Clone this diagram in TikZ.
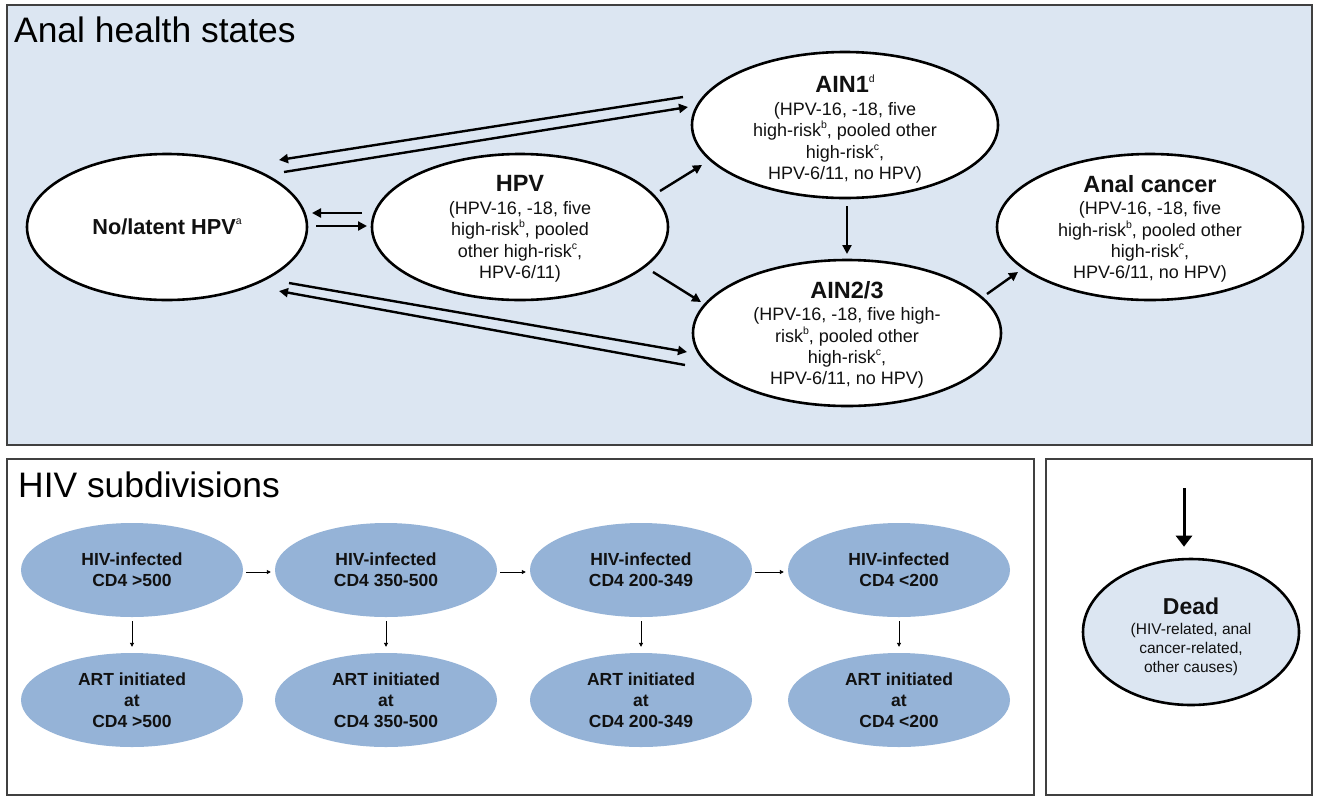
\documentclass[tikz,border=0pt]{standalone}
\usepackage{fontspec}
\setmainfont{Liberation Sans}
\usetikzlibrary{shapes.geometric,arrows.meta,calc}
\definecolor{panelblue}{HTML}{DCE6F2}
\definecolor{hivblue}{HTML}{95B3D7}
\definecolor{framegray}{HTML}{404040}
\definecolor{txt}{HTML}{111111}
\newcommand\supx[1]{\raisebox{0.45em}{\mdseries\fontsize{10.5}{11}\selectfont #1}}
\newcommand\bodyf{\fontsize{18}{21.4}\selectfont}
\newcommand\ttlf{\fontsize{23.5}{24}\selectfont\bfseries}
\newcommand\nolf{\fontsize{21.7}{24}\selectfont\bfseries}
\newcommand\deadttlf{\fontsize{23}{24}\selectfont\bfseries}
\newcommand\hivf{\fontsize{17.5}{21}\selectfont\bfseries}
\newcommand\panelf{\fontsize{35.4}{40}\selectfont}
\newcommand\deadbodyf{\fontsize{15.5}{19}\selectfont}
\begin{document}
\begin{tikzpicture}[x=1pt,y=-1pt,
  panel/.style={draw=framegray,line width=1.5pt},
  topell/.style={ellipse,draw=black,fill=white,line width=2.6pt,inner sep=0pt,
    minimum width=306pt,minimum height=146pt},
  hivell/.style={ellipse,draw=none,fill=hivblue,inner sep=0pt,
    minimum width=222pt,minimum height=94pt},
  deadell/.style={ellipse,draw=black,fill=panelblue,line width=2.6pt,inner sep=0pt,
    minimum width=216pt,minimum height=146pt},
  toptext/.style={align=center,text=txt,font=\bodyf,inner sep=0pt},
  hivtext/.style={align=center,text=txt,font=\hivf,inner sep=0pt},
  deadtext/.style={align=center,text=txt,font=\deadbodyf,inner sep=0pt},
  ptitle/.style={anchor=base west,font=\panelf,text=black,inner sep=0pt},
  conn/.style={line width=2.4pt,-{Triangle[length=9pt,width=9pt]}},
  thinarr/.style={line width=0.9pt,-{Triangle[length=4pt,width=4pt]}},
  deadarr/.style={line width=3pt,-{Triangle[length=11pt,width=16pt]}}
]
\useasboundingbox (0,0) rectangle (1319,796);

% panels
\draw[panel,fill=panelblue] (7,5) rectangle (1312,445);
\draw[panel,fill=white] (7,459) rectangle (1034,795);
\draw[panel,fill=white] (1046,459) rectangle (1312,795);

\node[ptitle] (t1) at (14,42) {Anal health states};
\node[ptitle] (t2) at (18,497) {HIV subdivisions};

% top ellipses
\node[topell,minimum width=280pt] (nolat) at (167,227) {};
\node[topell,minimum width=296pt] (hpv) at (520,227) {};
\node[topell] (ain1) at (845,125) {};
\node[topell,minimum width=308pt] (ain23) at (847,333) {};
\node[topell] (canc) at (1150,227) {};

\node[toptext] (nolatT) at (nolat) {{\nolf No/latent HPV\supx{a}}};
\node[toptext] (hpvT) at (520,229) {{\ttlf HPV}\\[1pt]
  (HPV-16, -18, five\\high-risk\supx{b}, pooled\\other high-risk\supx{c},\\HPV-6/11)};
\node[toptext] (ain1T) at (845,129) {{\ttlf AIN1\supx{d}}\\[1pt]
  (HPV-16, -18, five\\high-risk\supx{b}, pooled other\\high-risk\supx{c},\\HPV-6/11, no HPV)};
\node[toptext] (ain23T) at (847,335) {{\ttlf AIN2/3}\\[1pt]
  (HPV-16, -18, five high-\\risk\supx{b}, pooled other\\high-risk\supx{c},\\HPV-6/11, no HPV)};
\node[toptext] (cancT) at (1150,229) {{\ttlf Anal cancer}\\[1pt]
  (HPV-16, -18, five\\high-risk\supx{b}, pooled other\\high-risk\supx{c},\\HPV-6/11, no HPV)};

% connector end points
\coordinate (a1s) at (683,97);  \coordinate (a1e) at (279,160);
\coordinate (a2s) at (284,172); \coordinate (a2e) at (688,107);
\coordinate (a3s) at (362,213); \coordinate (a3e) at (312,213);
\coordinate (a4s) at (316,226); \coordinate (a4e) at (367,226);
\coordinate (a5s) at (660,191); \coordinate (a5e) at (702,165);
\coordinate (a6s) at (653,272); \coordinate (a6e) at (701,302);
\coordinate (a7s) at (289,283); \coordinate (a7e) at (687,352);
\coordinate (a8s) at (685,365); \coordinate (a8e) at (279,291);
\coordinate (a9s) at (847,206); \coordinate (a9e) at (847,254);
\coordinate (a10s) at (987,294); \coordinate (a10e) at (1018,272);

\draw[conn] (a1s) -- (a1e);
\draw[conn] (a2s) -- (a2e);
\draw[conn] (a3s) -- (a3e);
\draw[conn] (a4s) -- (a4e);
\draw[conn] (a5s) -- (a5e);
\draw[conn] (a6s) -- (a6e);
\draw[conn] (a7s) -- (a7e);
\draw[conn] (a8s) -- (a8e);
\draw[conn] (a9s) -- (a9e);
\draw[conn] (a10s) -- (a10e);

% HIV subdivisions
\node[hivell] (h1) at (132,570) {};
\node[hivell] (h2) at (386,570) {};
\node[hivell] (h3) at (641,570) {};
\node[hivell] (h4) at (899,570) {};
\node[hivell] (r1) at (132,700) {};
\node[hivell] (r2) at (386,700) {};
\node[hivell] (r3) at (641,700) {};
\node[hivell] (r4) at (899,700) {};

\node[hivtext] at (h1) {HIV-infected\\CD4 >500};
\node[hivtext] at (h2) {HIV-infected\\CD4 350-500};
\node[hivtext] at (h3) {HIV-infected\\CD4 200-349};
\node[hivtext] at (h4) {HIV-infected\\CD4 <200};
\node[hivtext] at (r1) {ART initiated\\at\\CD4 >500};
\node[hivtext] at (r2) {ART initiated\\at\\CD4 350-500};
\node[hivtext] at (r3) {ART initiated\\at\\CD4 200-349};
\node[hivtext] at (r4) {ART initiated\\at\\CD4 <200};

\draw[thinarr] ($(h1.east)+(3,2)$) -- ($(h2.west)+(-4,2)$);
\draw[thinarr] ($(h2.east)+(3,2)$) -- ($(h3.west)+(-4,2)$);
\draw[thinarr] ($(h3.east)+(3,2)$) -- ($(h4.west)+(-4,2)$);
\draw[thinarr] ($(h1.south)+(0,4)$) -- ($(r1.north)+(0,-6)$);
\draw[thinarr] ($(h2.south)+(0,4)$) -- ($(r2.north)+(0,-6)$);
\draw[thinarr] ($(h3.south)+(0,4)$) -- ($(r3.north)+(0,-6)$);
\draw[thinarr] ($(h4.south)+(0,4)$) -- ($(r4.north)+(0,-6)$);

% Dead panel
\node[deadell] (dead) at (1191,632) {};
\node[deadtext] (deadT) at (1191,637) {{\deadttlf Dead}\\[1pt]
  (HIV-related, anal\\cancer-related,\\other causes)};
\coordinate (dtop) at (1184,488);
\draw[deadarr] (dtop) -- ($(dead.north)+(-7,-11)$);
\end{tikzpicture}
\end{document}
